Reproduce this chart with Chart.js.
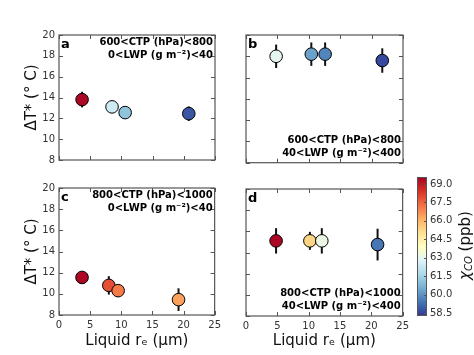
<!DOCTYPE html>
<html><head><meta charset="utf-8">
<script src="https://cdn.jsdelivr.net/npm/chart.js@4.4.0/dist/chart.umd.min.js"></script>
<style>
html,body{margin:0;padding:0;background:#fff;}
#wrap{position:relative;width:474px;height:355px;overflow:hidden;background:#fff;}
canvas{position:absolute;}
</style></head><body><div id="wrap">
<canvas id="ca"></canvas><canvas id="cb"></canvas><canvas id="cc"></canvas><canvas id="cd"></canvas><canvas id="cbar"></canvas>
</div>
<script>
// ---- data ----
const xTicks = [0, 5, 10, 15, 20, 25];
const yTicks = [8, 10, 12, 14, 16, 18, 20];
const cbTicks = [58.5, 60.0, 61.5, 63.0, 64.5, 66.0, 67.5, 69.0];

// panel a: 600<CTP<800, 0<LWP<40
const reA  = [3.7, 8.5, 10.6, 20.8];
const dtA  = [13.8, 13.1, 12.55, 12.45];
const errA = [0.75, 0.45, 0.45, 0.7];
const coA  = [69.4, 62.4, 61.1, 58.8];
// panel b: 600<CTP<800, 40<LWP<400
const reB  = [4.8, 10.4, 12.6, 21.7];
const dtB  = [18.0, 18.2, 18.2, 17.6];
const errB = [1.1, 1.1, 1.1, 1.15];
const coB  = [63.0, 60.3, 59.7, 58.6];
// panel c: 800<CTP<1000, 0<LWP<40
const reC  = [3.7, 8.0, 9.5, 19.2];
const dtC  = [11.55, 10.8, 10.3, 9.45];
const errC = [0.45, 0.87, 0.6, 1.07];
const coC  = [69.4, 67.9, 67.1, 66.4];
// panel d: 800<CTP<1000, 40<LWP<400
const reD  = [4.8, 10.2, 12.1, 21.0];
const dtD  = [15.1, 15.1, 15.1, 14.75];
const errD = [1.2, 0.85, 1.2, 1.5];
const coD  = [69.4, 65.3, 63.2, 59.4];

const cbMin = 58.25, cbMax = 69.57;

// RdYlBu_r colormap
const stops = ['#313695','#4575b4','#74add1','#abd9e9','#e0f3f8','#ffffbf','#fee090','#fdae61','#f46d43','#d73027','#a50026'];
function hex(h){return [parseInt(h.substr(1,2),16),parseInt(h.substr(3,2),16),parseInt(h.substr(5,2),16)];}
function cmapFrac(t){
  t = Math.max(0, Math.min(1, t));
  const p = t * (stops.length - 1), i = Math.min(Math.floor(p), stops.length - 2), f = p - i;
  const a = hex(stops[i]), b = hex(stops[i+1]);
  return 'rgb(' + a.map((v,k)=>Math.round(v + (b[k]-v)*f)).join(',') + ')';
}
function cmap(v){ return cmapFrac((v - cbMin) / (cbMax - cbMin)); }

const FONT = "'DejaVu Sans', sans-serif";
const FRAME = '#555';

const decoPlugin = {
  id: 'deco',
  beforeDatasetsDraw(chart, args, o) {
    const ctx = chart.ctx, xs = chart.scales.x, ys = chart.scales.y;
    ctx.save();
    ctx.strokeStyle = '#111'; ctx.lineWidth = 2;
    o.re.forEach((r, i) => {
      const px = xs.getPixelForValue(r);
      ctx.beginPath();
      ctx.moveTo(px, ys.getPixelForValue(o.dt[i] + o.err[i]));
      ctx.lineTo(px, ys.getPixelForValue(o.dt[i] - o.err[i]));
      ctx.stroke();
    });
    ctx.restore();
  },
  afterDatasetsDraw(chart, args, o) {
    const ctx = chart.ctx, a = chart.chartArea, xs = chart.scales.x, ys = chart.scales.y;
    ctx.save();
    ctx.strokeStyle = FRAME; ctx.lineWidth = 1.2;
    ctx.strokeRect(a.left, a.top, a.right - a.left, a.bottom - a.top);
    ctx.lineWidth = 1;
    ctx.beginPath();
    xTicks.forEach(v => {
      const px = Math.round(xs.getPixelForValue(v)) + 0.5;
      ctx.moveTo(px, a.bottom); ctx.lineTo(px, a.bottom - 4);
      ctx.moveTo(px, a.top); ctx.lineTo(px, a.top + 4);
    });
    yTicks.forEach(v => {
      const py = Math.round(ys.getPixelForValue(v)) + 0.5;
      ctx.moveTo(a.left, py); ctx.lineTo(a.left + 4, py);
      ctx.moveTo(a.right, py); ctx.lineTo(a.right - 4, py);
    });
    ctx.stroke();
    // panel letter
    ctx.fillStyle = '#000';
    ctx.font = 'bold 13px ' + FONT;
    ctx.textAlign = 'left'; ctx.textBaseline = 'alphabetic';
    ctx.fillText(o.letter, a.left + 2, a.top + 12.5);
    // annotation
    ctx.font = 'bold 10px ' + FONT;
    ctx.textAlign = 'right';
    const y1 = o.top ? a.top + 10 : a.bottom - 20;
    ctx.fillText(o.lines[0], a.right - 2, y1);
    ctx.fillText(o.lines[1], a.right - 2, y1 + 13);
    ctx.restore();
  }
};

function panel(id, rect, re, dt, err, co, o) {
  const cv = document.getElementById(id);
  cv.width = rect.w; cv.height = rect.h;
  cv.style.left = rect.x + 'px'; cv.style.top = rect.y + 'px';
  return new Chart(cv, {
    type: 'scatter',
    data: { datasets: [{
      data: re.map((x, i) => ({ x: x, y: dt[i] })),
      backgroundColor: co.map(cmap),
      borderColor: '#000', borderWidth: 1,
      pointRadius: 6.3, pointHoverRadius: 6.3
    }]},
    options: {
      responsive: false, animation: false, devicePixelRatio: 1, events: [],
      layout: { padding: { left: 0, top: o.pt, right: o.pr, bottom: 0 } },
      plugins: {
        legend: { display: false }, tooltip: { enabled: false },
        deco: { re: re, dt: dt, err: err, letter: o.letter, lines: o.lines, top: o.top }
      },
      scales: {
        x: {
          type: 'linear', min: 0, max: 25,
          grid: { display: false, drawTicks: false }, border: { display: false },
          afterBuildTicks: s => { s.ticks = xTicks.map(v => ({ value: v })); },
          afterFit: s => { s.height = o.xh; },
          ticks: { display: o.showX, padding: 4, color: '#333', font: { family: FONT, size: 10 }, maxRotation: 0 },
          title: { display: o.showX, text: 'Liquid rₑ (μm)', color: '#111',
                   font: { family: FONT, size: 15 }, padding: { top: 0, bottom: 5 } }
        },
        y: {
          type: 'linear', min: 8, max: 20,
          grid: { display: false, drawTicks: false }, border: { display: false },
          afterBuildTicks: s => { s.ticks = yTicks.map(v => ({ value: v })); },
          afterFit: s => { s.width = o.yw; },
          ticks: { display: o.showY, padding: 4, color: '#333', font: { family: FONT, size: 10 } },
          title: { display: o.showY, text: 'ΔT* (° C)', color: '#111',
                   font: { family: FONT, size: 15 }, padding: { top: 23, bottom: 0 } }
        }
      }
    },
    plugins: [decoPlugin]
  });
}

panel('ca', { x: 0, y: 0, w: 225, h: 170 }, reA, dtA, errA, coA,
  { pt: 35, pr: 10, xh: 7, yw: 59, showX: false, showY: true, letter: 'a', top: true,
    lines: ['600<CTP (hPa)<800', '0<LWP (g m⁻²)<40'] });
panel('cb', { x: 230, y: 0, w: 183, h: 170 }, reB, dtB, errB, coB,
  { pt: 35, pr: 10, xh: 7, yw: 16, showX: false, showY: false, letter: 'b', top: false,
    lines: ['600<CTP (hPa)<800', '40<LWP (g m⁻²)<400'] });
panel('cc', { x: 0, y: 172, w: 225, h: 183 }, reC, dtC, errC, coC,
  { pt: 16, pr: 10, xh: 40, yw: 59, showX: true, showY: true, letter: 'c', top: true,
    lines: ['800<CTP (hPa)<1000', '0<LWP (g m⁻²)<40'] });
panel('cd', { x: 230, y: 172, w: 183, h: 183 }, reD, dtD, errD, coD,
  { pt: 17, pr: 10, xh: 39, yw: 16, showX: true, showY: false, letter: 'd', top: false,
    lines: ['800<CTP (hPa)<1000', '40<LWP (g m⁻²)<400'] });

// ---- colorbar ----
const cbarPlugin = {
  id: 'cbarDeco',
  beforeDatasetsDraw(chart) {
    const ctx = chart.ctx, a = chart.chartArea, ys = chart.scales.y;
    const g = ctx.createLinearGradient(0, ys.getPixelForValue(cbMin), 0, ys.getPixelForValue(cbMax));
    stops.forEach((c, i) => g.addColorStop(i / (stops.length - 1), c));
    ctx.save();
    ctx.fillStyle = g;
    ctx.fillRect(a.left, a.top, a.right - a.left, a.bottom - a.top);
    ctx.strokeStyle = FRAME; ctx.lineWidth = 1;
    ctx.strokeRect(a.left + 0.5, a.top + 0.5, a.right - a.left - 1, a.bottom - a.top - 1);
    ctx.beginPath();
    cbTicks.forEach(v => {
      const py = Math.round(ys.getPixelForValue(v)) + 0.5;
      ctx.moveTo(a.right, py); ctx.lineTo(a.right - 3, py);
    });
    ctx.stroke();
    // label: chi_CO (ppb), rotated (canvas-local coordinates)
    ctx.translate(66, (a.top + a.bottom) / 2 - 1);
    ctx.rotate(-Math.PI / 2);
    ctx.fillStyle = '#111';
    ctx.textBaseline = 'middle';
    const f1 = 'italic 15px ' + FONT, f2 = 'italic 10px ' + FONT, f3 = '15px ' + FONT;
    ctx.font = f1; const w1 = ctx.measureText('χ').width;
    ctx.font = f2; const w2 = ctx.measureText('CO').width;
    ctx.font = f3; const w3 = ctx.measureText(' (ppb)').width;
    let x0 = -(w1 + w2 + w3) / 2;
    ctx.textAlign = 'left';
    ctx.font = f1; ctx.fillText('χ', x0, 0); x0 += w1;
    ctx.font = f2; ctx.fillText('CO', x0, 3); x0 += w2;
    ctx.font = f3; ctx.fillText(' (ppb)', x0, 0);
    ctx.restore();
  }
};
(function(){
  const cv = document.getElementById('cbar');
  cv.width = 74; cv.height = 190; cv.style.left = '400px'; cv.style.top = '165px';
  new Chart(cv, {
    type: 'scatter',
    data: { datasets: [{ data: [] }] },
    options: {
      responsive: false, animation: false, devicePixelRatio: 1, events: [],
      layout: { padding: { left: 17, top: 12, right: 0, bottom: 39 } },
      plugins: { legend: { display: false }, tooltip: { enabled: false } },
      scales: {
        x: { display: false, min: 0, max: 1 },
        y: {
          position: 'right', min: cbMin, max: cbMax,
          grid: { display: false, drawTicks: false }, border: { display: false },
          afterBuildTicks: s => { s.ticks = cbTicks.map(v => ({ value: v })); },
          afterFit: s => { s.width = 47; },
          ticks: { padding: 3, color: '#333', font: { family: FONT, size: 10 }, callback: v => Number(v).toFixed(1) }
        }
      }
    },
    plugins: [cbarPlugin]
  });
})();
</script>
</body></html>
